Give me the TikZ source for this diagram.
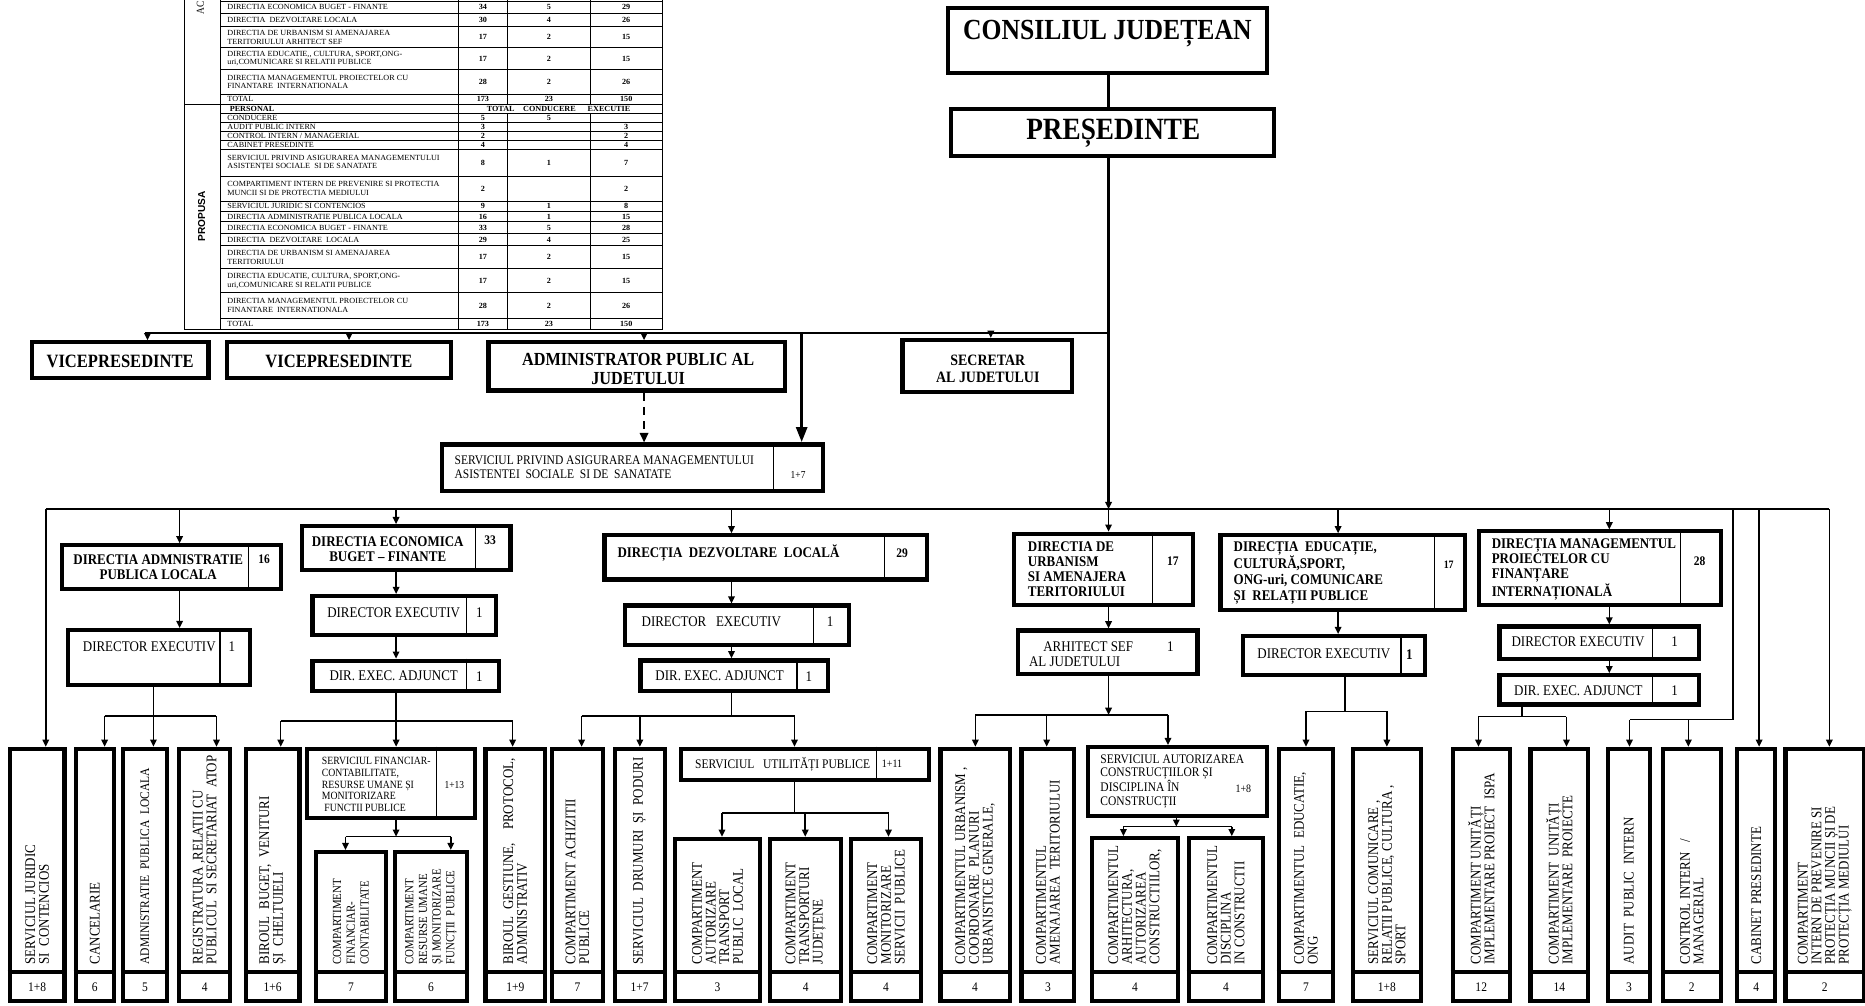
\documentclass[tikz,border=0pt]{standalone}
\usepackage{fontspec}
\setmainfont{Liberation Serif}[FakeStretch=0.88]
\newfontfamily\tabfam{Liberation Serif}[FakeStretch=1.04]
\newfontfamily\sansfam{Liberation Sans}
\usetikzlibrary{arrows.meta}
\newcommand\fsz[2]{\fontsize{#1}{#2}\selectfont}
\newcommand\mkbox[5]{\node[box,anchor=north west,minimum width={#4-#2-3.5},minimum height={#5-#3-3.5}] (#1) at (#2,#3) {};}
\newcommand\bbx[7][12.4]{%
  \mkbox{#2}{#3}{#5}{#4}{843.5}
  \draw[numdiv] (#3,817) -- (#4,817);
  \node[vtext,font=\fsz{#1}{11.5}] (#2t) at ({(#3+#4)/2},811) {#6};
  \node[numtext] (#2n) at ({(#3+#4)/2},830) {#7};}
\newcommand\trow[7]{%
  \draw[tline] (185,#3) -- (557,#3);
  \node[ttext] (#1) at (191,{(#2+#3)/2}) {#4};
  \node[tnum] (#1a) at (406,{(#2+#3)/2}) {#5};
  \node[tnum] (#1b) at (461.5,{(#2+#3)/2}) {#6};
  \node[tnum] (#1c) at (526.5,{(#2+#3)/2}) {#7};}
\begin{document}
\begin{tikzpicture}[x=1pt,y=-1pt,
  box/.style={draw,line width=3.5pt,rectangle,inner sep=0pt},
  numdiv/.style={line width=3.5pt},
  div/.style={line width=1.1pt},
  conn/.style={line width=1.3pt},
  bus/.style={line width=1.8pt},
  arr/.style={conn,-{Triangle[length=6pt,width=5.5pt]}},
  tline/.style={line width=0.7pt},
  ttext/.style={font=\tabfam\fsz{6.6}{7.3},align=left,inner sep=0pt,anchor=west},
  tnum/.style={font=\tabfam\fsz{6.6}{7.3}\bfseries,inner sep=0pt},
  vtext/.style={align=left,inner sep=0pt,rotate=90,anchor=west},
  numtext/.style={font=\fsz{11}{12},inner sep=0pt},
  lab/.style={inner sep=0pt,align=left,anchor=west},
  labc/.style={inner sep=0pt,align=center},
  bt/.style={font=\fsz{12.4}{12.6}\bfseries},
  rt/.style={font=\fsz{12.4}{12.6}},
  nb/.style={font=\fsz{11}{12}\bfseries},
]
\useasboundingbox (0,0) rectangle (1568,845);
% ---------------- table ----------------
\draw[line width=1pt] (155,0) -- (155,277) -- (557,277) -- (557,0);
\draw[tline] (185,1) -- (557,1);
\draw[tline] (185,0) -- (185,277);
\draw[tline] (385,0) -- (385,277);
\draw[tline] (427,0) -- (427,87.5) (427,95.5) -- (427,277);
\draw[tline] (496,0) -- (496,87.5) (496,95.5) -- (496,277);
\draw[tline] (155,87.5) -- (185,87.5);
\node[rotate=90,anchor=west,inner sep=0pt,font=\fsz{9}{9}] (ac) at (168.5,12) {AC};
\node[rotate=90,inner sep=0pt,font=\sansfam\fsz{8.5}{9}\bfseries] (prop) at (169.5,182) {PROPUSA};
\trow{a1}{1}{11.5}{DIRECTIA ECONOMICA BUGET - FINANTE}{34}{5}{29}
\trow{a2}{11.5}{22.5}{DIRECTIA\ \ DEZVOLTARE LOCALA}{30}{4}{26}
\trow{a3}{22.5}{40}{DIRECTIA DE URBANISM SI AMENAJAREA\\TERITORIULUI ARHITECT SEF}{17}{2}{15}
\trow{a4}{40}{58.5}{DIRECTIA EDUCATIE,, CULTURA, SPORT,ONG-\\uri,COMUNICARE SI RELATII PUBLICE}{17}{2}{15}
\trow{a5}{58.5}{79.5}{DIRECTIA MANAGEMENTUL PROIECTELOR CU\\FINANTARE\ \ INTERNATIONALA}{28}{2}{26}
\trow{a6}{79.5}{87.5}{TOTAL}{173}{23}{150}
\draw[tline] (185,95.5) -- (557,95.5);
\node[ttext,font=\tabfam\fsz{6.6}{7.3}\bfseries] (p0) at (193,91.5) {PERSONAL};
\node[tnum] (p0a) at (421,91.5) {TOTAL};
\node[tnum] (p0b) at (462,91.5) {CONDUCERE};
\node[tnum] (p0c) at (512,91.5) {EXECUTIE};
\trow{p1}{95.5}{103}{CONDUCERE}{5}{5}{}
\trow{p2}{103}{110.5}{AUDIT PUBLIC INTERN}{3}{}{3}
\trow{p3}{110.5}{118}{CONTROL INTERN / MANAGERIAL}{2}{}{2}
\trow{p4}{118}{125.5}{CABINET PRESEDINTE}{4}{}{4}
\trow{p5}{125.5}{148}{SERVICIUL PRIVIND ASIGURAREA MANAGEMENTULUI\\ASISTENȚEI SOCIALE\ \ SI DE SANATATE}{8}{1}{7}
\trow{p6}{148}{169}{COMPARTIMENT INTERN DE PREVENIRE SI PROTECTIA\\MUNCII SI DE PROTECTIA MEDIULUI}{2}{}{2}
\trow{p7}{169}{177.5}{SERVICIUL JURIDIC SI CONTENCIOS}{9}{1}{8}
\trow{p8}{177.5}{186.5}{DIRECTIA ADMINISTRATIE PUBLICA LOCALA}{16}{1}{15}
\trow{p9}{186.5}{196.5}{DIRECTIA ECONOMICA BUGET - FINANTE}{33}{5}{28}
\trow{p10}{196.5}{206.5}{DIRECTIA\ \ DEZVOLTARE\ \ LOCALA}{29}{4}{25}
\trow{p11}{206.5}{226}{DIRECTIA DE URBANISM SI AMENAJAREA\\TERITORIULUI}{17}{2}{15}
\trow{p12}{226}{246}{DIRECTIA EDUCATIE, CULTURA, SPORT,ONG-\\uri,COMUNICARE SI RELATII PUBLICE}{17}{2}{15}
\trow{p13}{246}{268}{DIRECTIA MANAGEMENTUL PROIECTELOR CU\\FINANTARE\ \ INTERNATIONALA}{28}{2}{26}
\trow{p14}{268}{277}{TOTAL}{173}{23}{150}
% ---------------- top ----------------
\coordinate (xP) at (932,0);
\mkbox{cj}{795}{5}{1067}{63}
\node[inner sep=0pt,font=\fsz{24.5}{26}\bfseries] (cjt) at (931,28) {CONSILIUL JUDEȚEAN};
\mkbox{pres}{798}{90}{1073}{133}
\node[inner sep=0pt,font=\fsz{26}{28}\bfseries] (prest) at (936,112) {PREȘEDINTE};
\draw[bus] (cj.south -| xP) -- (pres.north -| xP);
\coordinate (bP) at (932,428);
\draw[bus,-{Triangle[length=6pt,width=5.5pt]}] (pres.south -| xP) -- (bP);
% top bus
\coordinate (t0) at (122,280);
\coordinate (t1) at (932,280);
\draw[bus] (t0) -- (t1);
\mkbox{vice1}{25}{286}{177}{319.5}
\node[inner sep=0pt,font=\fsz{15.8}{16}\bfseries] (vice1t) at (101,303.5) {VICEPRESEDINTE};
\mkbox{vice2}{189}{286}{381}{319.5}
\node[inner sep=0pt,font=\fsz{15.8}{16}\bfseries] (vice2t) at (285,303.5) {VICEPRESEDINTE};
\mkbox{admin}{409}{286}{662}{330}
\node[labc,font=\fsz{15.5}{16}\bfseries] (admint) at (536.5,310.5) {ADMINISTRATOR PUBLIC AL\\JUDETULUI};
\mkbox{sec}{757}{284}{903}{331}
\node[labc,font=\fsz{13.3}{14}\bfseries] (sect) at (830.5,310) {SECRETAR\\AL JUDETULUI};
\coordinate (tv1) at (124,280);
\coordinate (tv2) at (293.5,280);
\coordinate (tv3) at (541.5,280);
\coordinate (tv4) at (833,280);
\coordinate (tv5) at (674,280);
\draw[arr] (tv1) -- (vice1.north -| tv1);
\draw[arr] (tv2) -- (vice2.north -| tv2);
\draw[arr] (tv3) -- (admin.north -| tv3);
\draw[arr] (tv4) -- (sec.north -| tv4);
\mkbox{sp}{370}{372}{694}{414.6}
\draw[div] (650.5,372) -- (650.5,414.6);
\node[lab,font=\fsz{11}{11.7}] (spt) at (382,393) {SERVICIUL PRIVIND ASIGURAREA MANAGEMENTULUI\\ASISTENTEI\ \ SOCIALE\ \ SI DE\ \ SANATATE};
\node[labc,font=\fsz{9}{10}] (spn) at (671,399) {1+7};
\draw[line width=3pt,-{Triangle[length=13pt,width=9pt]}] (tv5) -- (sp.north -| tv5);
\draw[line width=1.8pt,dash pattern=on 7pt off 5pt,-{Triangle[length=8pt,width=7pt]}] (admin.south -| tv3) -- (sp.north -| tv3);
% ---------------- directions bus ----------------
\coordinate (bL) at (38.5,428);
\coordinate (bR) at (1538,428);
\draw[bus] (bL) -- (bR);
\coordinate (b1) at (151,428);
\coordinate (b2) at (333,428);
\coordinate (b3) at (615,428);
\coordinate (b5) at (1125,428);
\coordinate (b6) at (1353,428);
\coordinate (b7) at (1457,428);
\coordinate (b8) at (1479,428);
% admin
\mkbox{dadm}{50.4}{456.8}{237.9}{496.6}
\draw[div] (209,456.8) -- (209,496.6);
\node[labc,bt] (dadmt) at (133,477) {DIRECTIA ADMNISTRATIE\\PUBLICA LOCALA};
\node[labc,nb] (dadmn) at (222,470) {16};
\draw[arr] (b1) -- (dadm.north -| b1);
\mkbox{dexadm}{55.4}{528}{211.7}{577.4}
\draw[div] (185,528) -- (185,577.4);
\node[labc,rt] (dexadmt) at (125.5,544) {DIRECTOR EXECUTIV};
\node[labc,rt] (dexadmn) at (195,544) {1};
\draw[arr] (dadm.south -| b1) -- (dexadm.north -| b1);
% econ
\mkbox{deco}{252}{440.6}{431}{480.7}
\draw[div] (399.7,440.6) -- (399.7,480.7);
\node[labc,bt] (decot) at (326,461.5) {DIRECTIA ECONOMICA\\BUGET – FINANTE};
\node[labc,nb] (decon) at (412,454) {33};
\draw[arr] (b2) -- (deco.north -| b2);
\mkbox{dexeco}{261}{499.4}{419}{535.3}
\draw[div] (392,499.4) -- (392,535.3);
\node[labc,rt] (dexecot) at (331,515) {DIRECTOR EXECUTIV};
\node[labc,rt] (dexecon) at (403,515) {1};
\draw[arr] (deco.south -| b2) -- (dexeco.north -| b2);
\mkbox{adjeco}{261}{553.8}{421}{583}
\draw[div] (392,553.8) -- (392,583);
\node[labc,rt] (adjecot) at (331,568.5) {DIR. EXEC. ADJUNCT};
\node[labc,rt] (adjecon) at (403,568.5) {1};
\draw[arr] (dexeco.south -| b2) -- (adjeco.north -| b2);
% dezvoltare
\mkbox{ddez}{506.5}{448.4}{781}{489}
\draw[div] (743.4,448.4) -- (743.4,489);
\node[lab,bt] (ddezt) at (519,465.3) {DIRECȚIA\ \ DEZVOLTARE\ \ LOCALĂ};
\node[labc,nb] (ddezn) at (758.5,465.3) {29};
\draw[arr] (b3) -- (ddez.north -| b3);
\mkbox{dexdez}{524}{507.3}{715.7}{543.7}
\draw[div] (684,507.3) -- (684,543.7);
\node[labc,rt] (dexdezt) at (598,522.7) {DIRECTOR\ \ \ EXECUTIV};
\node[labc,rt] (dexdezn) at (698,522.7) {1};
\draw[arr] (ddez.south -| b3) -- (dexdez.north -| b3);
\mkbox{adjdez}{536.8}{553.5}{698}{582.4}
\draw[div] (670,553.5) -- (670,582.4);
\node[labc,rt] (adjdezt) at (605,568.5) {DIR. EXEC. ADJUNCT};
\node[labc,rt] (adjdezn) at (680,568.5) {1};
\draw[arr] (dexdez.south -| b3) -- (adjdez.north -| b3);
% urbanism
\mkbox{durb}{850.8}{447}{1004.6}{510.7}
\draw[div] (968.9,447) -- (968.9,510.7);
\node[lab,font=\fsz{12.4}{12.6}\bfseries] (durbt) at (864,478.5) {DIRECTIA DE\\URBANISM\\SI AMENAJERA\\TERITORIULUI};
\node[labc,nb] (durbn) at (986,472) {17};
\draw[arr] (bP) -- (durb.north -| bP);
\mkbox{arh}{853.8}{528.3}{1008.5}{568.4}
\node[lab,rt] (arht) at (865,550) {\hspace*{12pt}ARHITECT SEF\\AL JUDETULUI};
\node[labc,rt] (arhn) at (984,543.7) {1};
\draw[arr] (durb.south -| bP) -- (arh.north -| bP);
% educatie
\mkbox{dedu}{1024.4}{448.4}{1233.2}{514.3}
\draw[div] (1206,448.4) -- (1206,514.3);
\node[lab,font=\fsz{12.4}{13.2}\bfseries] (dedut) at (1037,481.5) {DIRECȚIA\ \ EDUCAȚIE,\\CULTURĂ,SPORT,\\ONG-uri, COMUNICARE\\ȘI\ \ RELAȚII PUBLICE};
\node[labc,font=\fsz{9.5}{10}\bfseries] (dedun) at (1218,475) {17};
\draw[arr] (b5) -- (dedu.north -| b5);
\mkbox{dexedu}{1043.3}{533}{1199.5}{569}
\draw[div] (1178,533) -- (1178,569);
\node[labc,rt] (dexedut) at (1113,550) {DIRECTOR EXECUTIV};
\node[labc,font=\fsz{12.4}{13}\bfseries] (dexedun) at (1185,550) {1};
\draw[arr] (dedu.south -| b5) -- (dexedu.north -| b5);
% management
\mkbox{dman}{1241.7}{445}{1449}{510.7}
\draw[div] (1412.8,445) -- (1412.8,510.7);
\node[lab,font=\fsz{12.4}{12.6}\bfseries] (dmant) at (1254,478.5) {DIRECȚIA MANAGEMENTUL\\PROIECTELOR CU\\FINANȚARE\\INTERNAȚIONALĂ};
\node[labc,nb] (dmann) at (1429,472) {28};
\draw[arr] (b6) -- (dman.north -| b6);
\mkbox{dexman}{1259}{525}{1430}{556}
\draw[div] (1389.5,525) -- (1389.5,556);
\node[labc,rt] (dexmant) at (1326.7,539.5) {DIRECTOR EXECUTIV};
\node[labc,rt] (dexmann) at (1408,539.5) {1};
\draw[arr] (dman.south -| b6) -- (dexman.north -| b6);
\mkbox{adjman}{1259}{566}{1430}{594}
\draw[div] (1389.5,566) -- (1389.5,594);
\node[labc,rt] (adjmant) at (1327,580.5) {DIR. EXEC. ADJUNCT};
\node[labc,rt] (adjmann) at (1408,580.5) {1};
\draw[arr] (dexman.south -| b6) -- (adjman.north -| b6);
% ---------------- second-level services ----------------
\mkbox{sf}{256.6}{627.8}{401}{689.4}
\draw[div] (367,627.8) -- (367,689.4);
\node[lab,font=\fsz{9.3}{9.7}] (sft) at (270.5,659.5) {SERVICIUL FINANCIAR-\\CONTABILITATE,\\RESURSE UMANE ȘI\\MONITORIZARE\\\ FUNCTII PUBLICE};
\node[labc,font=\fsz{9}{10}] (sfn) at (382,660) {1+13};
\mkbox{su}{571}{627.8}{783}{657.2}
\draw[div] (737,627.8) -- (737,657.2);
\node[lab,font=\fsz{11}{12}] (sut) at (584.3,642.5) {SERVICIUL\ \ \ UTILITĂȚI PUBLICE};
\node[labc,font=\fsz{9.5}{10}] (sun) at (750,642.5) {1+11};
\mkbox{sa}{912.8}{626.3}{1067.2}{688}
\node[lab,font=\fsz{11}{11.1}] (sat) at (925,657) {SERVICIUL AUTORIZAREA\\CONSTRUCȚIILOR ȘI\\DISCIPLINA ÎN\\CONSTRUCȚII};
\node[labc,font=\fsz{9.5}{10}] (san) at (1045.4,662.8) {1+8};
% ---------------- bottom boxes ----------------
\bbx{sj}{6.5}{56}{627.8}{SERVICIUL JURIDIC\\SI\ \ CONTENCIOS}{1+8}
\bbx{canc}{62}{97.3}{627.8}{CANCELARIE}{6}
\bbx[11]{adm}{101.7}{142}{627.8}{ADMINISTRATIE\ \ PUBLICA\ \ LOCALA}{5}
\bbx{reg}{149}{195.2}{627.8}{REGISTRATURA\ ,RELATII CU\\PUBLICUL\ \ SI SECRETARIAT\ \ ATOP}{4}
\bbx{bb}{205}{253.6}{627.8}{BIROUL\ \ BUGET,\ \ VENITURI\\ȘI\ \ CHELTUIELI}{1+6}
\bbx[10.4]{cf}{264}{326}{714.6}{COMPARTIMENT\\FINANCIAR-\\CONTABILITATE}{7}
\bbx[10.4]{cr}{330.3}{394.6}{714.6}{COMPARTIMENT\\RESURSE UMANE\\ȘI MONITORIZARE\\FUNCȚII\ \ PUBLICE}{6}
\bbx{bg}{406.4}{460}{627.8}{BIROUL\ \ GESTIUNE,\ \ \ \ PROTOCOL,\\ADMINISTRATIV}{1+9}
\bbx{ach}{462.4}{508.7}{627.8}{COMPARTIMENT ACHIZITII\\PUBLICE}{7}
\bbx{dru}{515}{560.5}{627.8}{SERVICIUL\ \ DRUMURI\ \ ȘI\ \ PODURI}{1+7}
\bbx{aut}{566}{640.6}{703.5}{COMPARTIMENT\\AUTORIZARE\\TRANSPORT\\PUBLIC\ \ LOCAL}{3}
\bbx{trj}{645.8}{709}{703.5}{COMPARTIMENT\\TRANSPORTURI\\JUDEȚENE}{4}
\bbx{mon}{714}{776}{703.5}{COMPARTIMENT\\MONITORIZARE\\SERVICII\ \ PUBLICE}{4}
\bbx{cu}{789}{850.6}{627.8}{COMPARTIMENTUL URBANISM ,\\COORDONARE\ \ PLANURI\\URBANISTICE GENERALE,}{4}
\bbx{ca}{857}{905}{627.8}{COMPARTIMENTUL\\AMENAJAREA\ \ TERITORIULUI}{3}
\bbx{car}{916.5}{992}{703}{COMPARTIMENTUL\\ARHITECTURA,\\AUTORIZAREA\\CONSTRUCTIILOR,}{4}
\bbx{cdi}{997.7}{1063.6}{703}{COMPARTIMENTUL\\DISCIPLINA\\IN CONSTRUCTII}{4}
\bbx{ced}{1073.4}{1122.5}{627.8}{COMPARTIMENTUL\ \ EDUCATIE,\\ONG}{7}
\bbx{scom}{1136}{1196.2}{627.8}{SERVICIUL COMUNICARE ,\\RELATII PUBLICE, CULTURA ,\\SPORT}{1+8}
\bbx{ispa}{1219.7}{1271}{627.8}{COMPARTIMENT UNITĂȚI\\IMPLEMENTARE PROIECT\ \ ISPA}{12}
\bbx{proi}{1285}{1336.9}{627.8}{COMPARTIMENT\ \ UNITĂȚI\\IMPLEMENTARE\ \ PROIECTE}{14}
\bbx{aud}{1350.3}{1388.7}{627.8}{AUDIT\ \ PUBLIC\ \ INTERN}{3}
\bbx{ctl}{1396.3}{1448.4}{627.8}{CONTROL INTERN\ \ \ /\\MANAGERIAL}{2}
\bbx{cab}{1458.8}{1494.4}{627.8}{CABINET PRESEDINTE}{4}
\bbx{cint}{1499.4}{1569}{627.8}{COMPARTIMENT\\INTERN DE PREVENIRE SI\\PROTECȚIA MUNCII ȘI DE\\PROTECȚIA MEDIULUI}{2}
% ---------------- bottom connectors ----------------
\draw[arr] (bL) -- (sj.north -| bL);
% admin group
\coordinate (ga) at (129,602);
\coordinate (ga1) at (88,602);
\coordinate (ga3) at (182,602);
\draw[conn] (ga1) -- (ga3);
\draw[arr] (dexadm.south -| ga) -- (adm.north -| ga);
\draw[arr] (ga1) -- (canc.north -| ga1);
\draw[arr] (ga3) -- (reg.north -| ga3);
% econ group
\coordinate (ge) at (333,606);
\coordinate (ge1) at (236,606);
\coordinate (ge3) at (431,606);
\draw[conn] (ge1) -- (ge3);
\draw[arr] (adjeco.south -| ge) -- (sf.north -| ge);
\draw[arr] (ge1) -- (bb.north -| ge1);
\draw[arr] (ge3) -- (bg.north -| ge3);
\coordinate (gs) at (333,703.4);
\coordinate (gs1) at (290.5,703.4);
\coordinate (gs2) at (379,703.4);
\draw[arr] (sf.south -| gs) -- (gs);
\draw[conn] (gs1) -- (gs2);
\draw[arr] (gs1) -- (cf.north -| gs1);
\draw[arr] (gs2) -- (cr.north -| gs2);
% dezvoltare group
\coordinate (gd) at (615,602);
\coordinate (gd1) at (489,602);
\coordinate (gd2) at (538,602);
\coordinate (gd3) at (668,602);
\draw[conn] (adjdez.south -| gd) -- (gd);
\draw[conn] (gd1) -- (gd3);
\draw[arr] (gd1) -- (ach.north -| gd1);
\draw[arr] (gd2) -- (dru.north -| gd2);
\draw[arr] (gd3) -- (su.north -| gd3);
\coordinate (gu) at (668,683.6);
\coordinate (gu1) at (607,683.6);
\coordinate (gu2) at (677,683.6);
\coordinate (gu3) at (747,683.6);
\draw[conn] (su.south -| gu) -- (gu);
\draw[conn] (gu1) -- (gu3);
\draw[arr] (gu1) -- (aut.north -| gu1);
\draw[arr] (gu2) -- (trj.north -| gu2);
\draw[arr] (gu3) -- (mon.north -| gu3);
% urbanism group
\coordinate (gb) at (932,601);
\coordinate (gb1) at (820,601);
\coordinate (gb2) at (880,601);
\coordinate (gb3) at (982,601);
\draw[arr] (arh.south -| gb) -- (gb);
\draw[conn] (gb1) -- (gb3);
\draw[arr] (gb1) -- (cu.north -| gb1);
\draw[arr] (gb2) -- (ca.north -| gb2);
\draw[arr] (gb3) -- (sa.north -| gb3);
\coordinate (gz) at (989,695);
\coordinate (gz1) at (944.5,695);
\coordinate (gz2) at (1035.6,695);
\draw[arr] (sa.south -| gz) -- (gz);
\draw[conn] (gz1) -- (gz2);
\draw[arr] (gz1) -- (car.north -| gz1);
\draw[arr] (gz2) -- (cdi.north -| gz2);
% educatie group
\coordinate (gc) at (1131,598);
\coordinate (gc1) at (1098,598);
\coordinate (gc2) at (1166,598);
\draw[conn] (dexedu.south -| gc) -- (gc);
\draw[conn] (gc1) -- (gc2);
\draw[arr] (gc1) -- (ced.north -| gc1);
\draw[arr] (gc2) -- (scom.north -| gc2);
% management group
\coordinate (gm) at (1279.4,602.5);
\coordinate (gm1) at (1243,602.5);
\coordinate (gm2) at (1317,602.5);
\draw[conn] (adjman.south -| gm) -- (gm);
\draw[conn] (gm1) -- (gm2);
\draw[arr] (gm1) -- (ispa.north -| gm1);
\draw[arr] (gm2) -- (proi.north -| gm2);
% right side
\coordinate (c7) at (1457,605);
\coordinate (c8) at (1370,605);
\coordinate (c9) at (1419.5,605);
\draw[conn] (b7) -- (c7) -- (c8);
\draw[arr] (c8) -- (aud.north -| c8);
\draw[arr] (c9) -- (ctl.north -| c9);
\draw[arr] (b8) -- (cab.north -| b8);
\draw[arr] (bR) -- (cint.north -| bR);
\end{tikzpicture}
\end{document}
